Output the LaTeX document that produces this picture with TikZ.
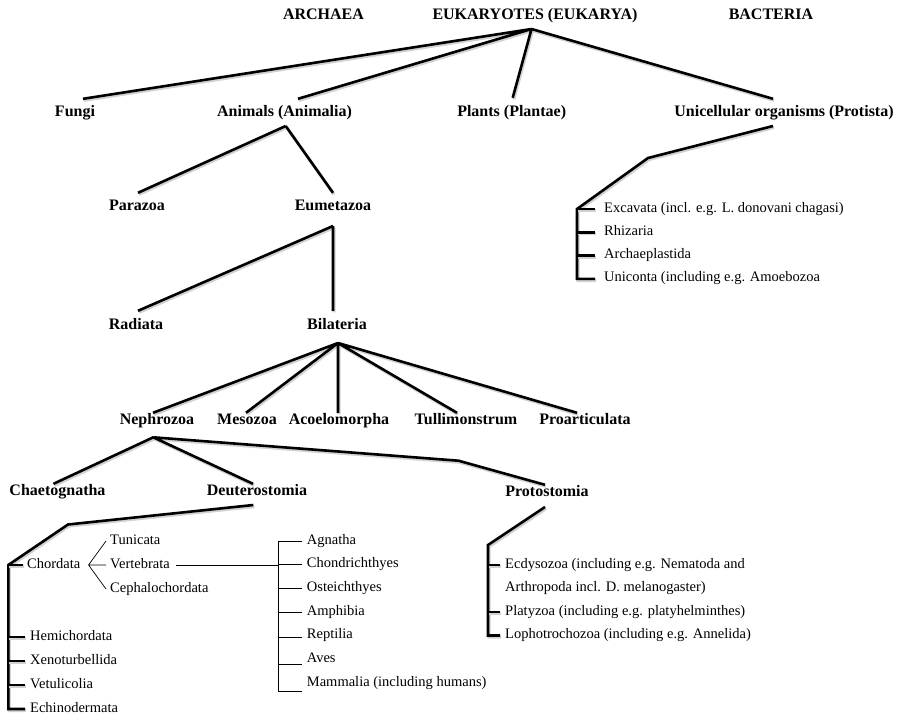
\documentclass[tikz,border=0pt]{standalone}
\usepackage{fontspec}
\setmainfont{Liberation Serif}
\usetikzlibrary{positioning,calc}

\begin{document}
\begin{tikzpicture}[
        x=1pt, y=1pt,
        taxon/.style={inner sep=0pt, text height=11pt, text depth=3pt, font=\fontsize{16}{16}\bfseries},
        entry/.style={anchor=west, inner ysep=0pt, inner xsep=5pt, text height=9pt, text depth=3pt, font=\fontsize{14.5}{14.5}\selectfont},
        branch/.style={line width=2.6pt, preaction={draw=black!18, line width=3.2pt, transform canvas={shift={(1pt,-1.5pt)}}}},
        twig/.style={line width=0.7pt}
      ]

      \useasboundingbox (0,0) rectangle (898,-715);

      % domains and kingdoms
      \node (ARC) at (323.5,-15) [taxon] {ARCHAEA};
      \node (EUK) at (535,-15) [taxon] {EUKARYOTES (EUKARYA)};
      \node (BAC) at (771,-15) [taxon] {BACTERIA};
      \node (FUN) at (75,-112) [taxon] {Fungi};
      \node (ANI) at (284.5,-112) [taxon] {Animals (Animalia)};
      \node (PLA) at (511.7,-112) [taxon] {Plants (Plantae)};
      \node (PRO) at (784,-112) [taxon] {Unicellular organisms (Protista)};

      % animals
      \node (PAR) at (137,-206) [taxon] {Parazoa};
      \node (EUM) at (333,-206) [taxon] {Eumetazoa};
      \node (RAD) at (136,-325) [taxon] {Radiata};
      \node (BIL) at (337,-325) [taxon] {Bilateria};
      \node (NEP) at (157,-420) [taxon] {Nephrozoa};
      \node (MES) at (247,-420) [taxon] {Mesozoa};
      \node (ACO) at (339,-420) [taxon] {Acoelomorpha};
      \node (TUL) at (466,-420) [taxon] {Tullimonstrum};
      \node (PRA) at (585,-420) [taxon] {Proarticulata};
      \node (CHA) at (57.5,-491) [taxon] {Chaetognatha};
      \node (DEU) at (257,-491) [taxon] {Deuterostomia};
      \node (PRT) at (547,-492) [taxon] {Protostomia};

      % protists
      \node (EXC) at (595,-209) [entry, inner xsep=9pt] {Excavata (incl. e.g. L. donovani chagasi)};
      \node (RHI) [entry, inner xsep=9pt, below=23.3pt of EXC.west, anchor=west] {Rhizaria};
      \node (ARP) [entry, inner xsep=9pt, below=23.3pt of RHI.west, anchor=west] {Archaeplastida};
      \node (UNI) [entry, inner xsep=9pt, below=23.3pt of ARP.west, anchor=west] {Uniconta (including e.g. Amoebozoa};

      % deuterostomes
      \node (CHO) at (23,-565) [entry, inner xsep=4pt] {Chordata};
      \node (HEM) at (25,-637) [entry] {Hemichordata};
      \node (XEN) [entry, below=24pt of HEM.west, anchor=west] {Xenoturbellida};
      \node (VET) [entry, below=24pt of XEN.west, anchor=west] {Vetulicolia};
      \node (ECH) [entry, below=24pt of VET.west, anchor=west] {Echinodermata};
      \node (TUN) at (106,-541) [entry, inner xsep=4pt] {Tunicata};
      \node (VER) at (106,-565) [entry, inner xsep=4pt] {Vertebrata};
      \node (CEP) at (106,-589) [entry, inner xsep=4pt] {Cephalochordata};

      % vertebrates
      \node (AGN) at (301.7,-541) [entry] {Agnatha};
      \node (CHN) [entry, below=23.7pt of AGN.west, anchor=west] {Chondrichthyes};
      \node (OST) [entry, below=23.7pt of CHN.west, anchor=west] {Osteichthyes};
      \node (AMP) [entry, below=23.7pt of OST.west, anchor=west] {Amphibia};
      \node (REP) [entry, below=23.7pt of AMP.west, anchor=west] {Reptilia};
      \node (AVE) [entry, below=23.7pt of REP.west, anchor=west] {Aves};
      \node (MAM) [entry, below=23.7pt of AVE.west, anchor=west] {Mammalia (including humans)};

      % protostomes
      \node (ECD) at (500,-565) [entry] {Ecdysozoa (including e.g. Nematoda and};
      \node (ECDb) [entry, below=23.5pt of ECD.west, anchor=west] {Arthropoda incl. D. melanogaster)};
      \node (PLT) [entry, below=23.5pt of ECDb.west, anchor=west] {Platyzoa (including e.g. platyhelminthes)};
      \node (LOP) [entry, below=23.5pt of PLT.west, anchor=west] {Lophotrochozoa (including e.g. Annelida)};

      % split points
      \coordinate (EUKs) at (531.5,-29);
      \coordinate (ANIs) at (285.7,-126);
      \coordinate (EUMs) at (333,-226);
      \coordinate (BILs) at (338,-343);
      \coordinate (NEPs) at (153.3,-437.3);
      \coordinate (NEPk) at (458.5,-460.7);
      \coordinate (PROs) at (773,-126);
      \coordinate (PROk) at (648,-158);
      \coordinate (PROv) at (577,-209);
      \coordinate (DEUs) at (253.3,-505);
      \coordinate (DEUk) at (68,-524.5);
      \coordinate (DEUv) at (8.3,-565);
      \coordinate (PRTs) at (545,-507);
      \coordinate (PRTk) at (488,-545);
      \coordinate (CHOs) at ([xshift=4pt]CHO.east);
      \coordinate (VEv) at (278.3,-565);

      \draw[branch]
        (EUKs) -- ([xshift=8pt, yshift=6pt]FUN.north)
        (EUKs) -- ([xshift=13.5pt, yshift=6pt]ANI.north)
        (EUKs) -- ([xshift=1pt, yshift=7pt]PLA.north)
        (EUKs) -- ([xshift=-11pt, yshift=6pt]PRO.north);
      \draw[branch]
        (ANIs) -- ([xshift=1pt, yshift=6pt]PAR.north)
        (ANIs) -- ([yshift=6pt]EUM.north);
      \draw[branch]
        (EUMs) -- ([xshift=2pt, yshift=7pt]RAD.north)
        (EUMs) -- ([xshift=-4pt, yshift=7pt]BIL.north);
      \draw[branch]
        (BILs) -- ([xshift=-4pt]NEP.north)
        (BILs) -- ([xshift=-1pt]MES.north)
        (BILs) -- ([xshift=-1pt]ACO.north)
        (BILs) -- ([xshift=-9pt]TUL.north)
        (BILs) -- ([xshift=-8pt]PRA.north);
      \draw[branch]
        (NEPs) -- ([xshift=-4pt]CHA.north)
        (NEPs) -- ([xshift=-4pt]DEU.north)
        (NEPs) -- (NEPk) -- ([xshift=-2pt]PRT.north);

      % protist bracket
      \draw[branch] (PROs) -- (PROk) -- (PROv) |- (UNI.west);
      \draw[branch]
        (PROv) -- (EXC.west)
        (RHI.west -| PROv) -- (RHI.west)
        (ARP.west -| PROv) -- (ARP.west);

      % deuterostome bracket
      \draw[branch] (DEUs) -- (DEUk) -- (DEUv) |- (ECH.west);
      \draw[branch]
        (DEUv) -- (CHO.west)
        (HEM.west -| DEUv) -- (HEM.west)
        (XEN.west -| DEUv) -- (XEN.west)
        (VET.west -| DEUv) -- (VET.west);

      % protostome bracket
      \draw[branch] (PRTs) -- (PRTk) |- (LOP.west);
      \draw[branch]
        (ECD.west -| PRTk) -- (ECD.west)
        (PLT.west -| PRTk) -- (PLT.west);

      % chordates and vertebrates
      \draw[twig]
        (CHOs) -- (TUN.west)
        (CHOs) -- (VER.west)
        (CHOs) -- (CEP.west);
      \draw[twig] ([xshift=2pt]VER.east) -- (VEv);
      \draw[twig] (AGN.west -| VEv) |- ([yshift=-8.5pt]MAM.west);
      \draw[twig]
        (AGN.west -| VEv) -- (AGN.west)
        (CHN.west -| VEv) -- (CHN.west)
        (OST.west -| VEv) -- (OST.west)
        (AMP.west -| VEv) -- (AMP.west)
        ([yshift=-2pt]REP.west -| VEv) -- ([yshift=-2pt]REP.west)
        ([yshift=-4.5pt]AVE.west -| VEv) -- ([yshift=-4.5pt]AVE.west);
    \end{tikzpicture}
\end{document}
